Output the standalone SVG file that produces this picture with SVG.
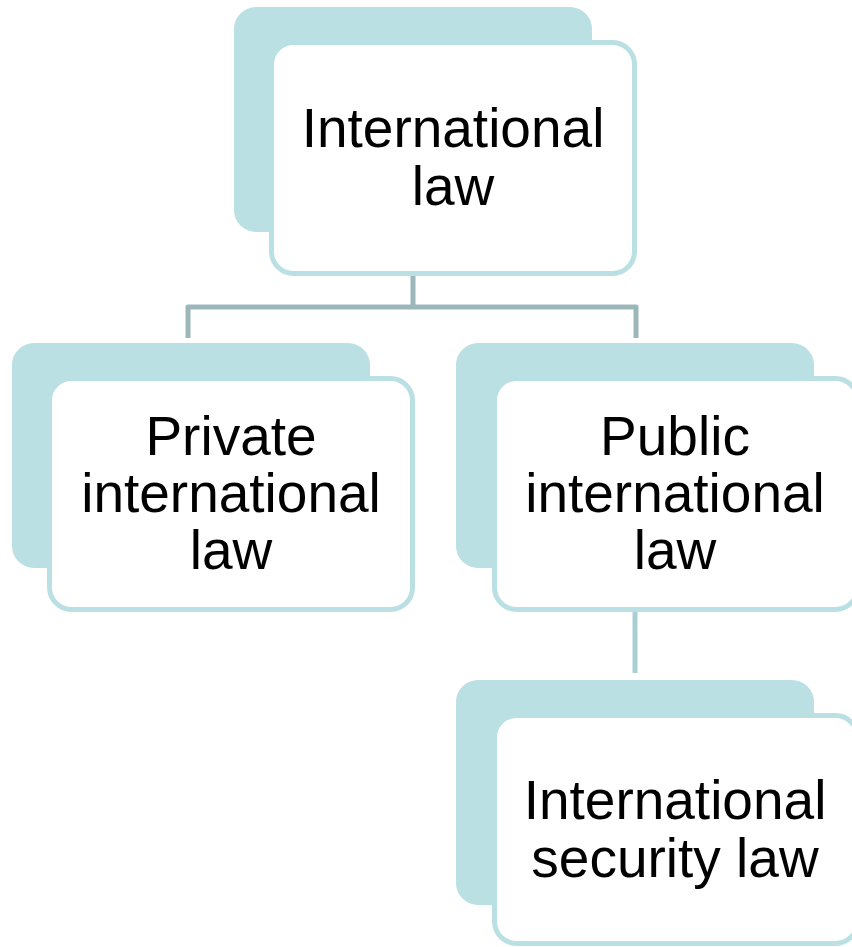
<svg xmlns="http://www.w3.org/2000/svg" width="852" height="947" viewBox="0 0 852 947">
<style>
.back{fill:#bbe0e3;}
.front{fill:#ffffff;stroke:#bbe0e3;stroke-width:5;}
.lbl{font-family:"Liberation Sans",Arial,sans-serif;font-size:55px;fill:#000000;text-anchor:middle;}
.conn{fill:none;stroke:#9bb7ba;stroke-width:5;stroke-linejoin:round;}
.conn2{fill:none;stroke:#a9cfd2;stroke-width:5;}
</style>
<rect width="852" height="947" fill="#ffffff"/>
<g id="connectors">
<path class="conn" d="M413,276 V307 M188,338 V307 H636 V338"/>
<path class="conn2" d="M635,612 V673"/>
</g>
<g id="node-international-law">
<rect class="back" x="234" y="7" width="358" height="225" rx="22"/>
<rect class="front" x="271.5" y="42.5" width="363" height="231" rx="22"/>
<text class="lbl" x="453" y="147">International</text>
<text class="lbl" x="453" y="205">law</text>
</g>
<g id="node-private">
<rect class="back" x="12" y="343" width="358" height="225" rx="22"/>
<rect class="front" x="49.5" y="378.5" width="363" height="231" rx="22"/>
<text class="lbl" x="231" y="455">Private</text>
<text class="lbl" x="231" y="512">international</text>
<text class="lbl" x="231" y="569">law</text>
</g>
<g id="node-public">
<rect class="back" x="456" y="343" width="358" height="225" rx="22"/>
<rect class="front" x="494.5" y="378.5" width="363" height="231" rx="22"/>
<text class="lbl" x="675" y="455">Public</text>
<text class="lbl" x="675" y="512">international</text>
<text class="lbl" x="675" y="569">law</text>
</g>
<g id="node-security">
<rect class="back" x="456" y="680" width="358" height="225" rx="22"/>
<rect class="front" x="494.5" y="715.5" width="363" height="228" rx="22"/>
<text class="lbl" x="675" y="819">International</text>
<text class="lbl" x="675" y="877">security law</text>
</g>
</svg>
